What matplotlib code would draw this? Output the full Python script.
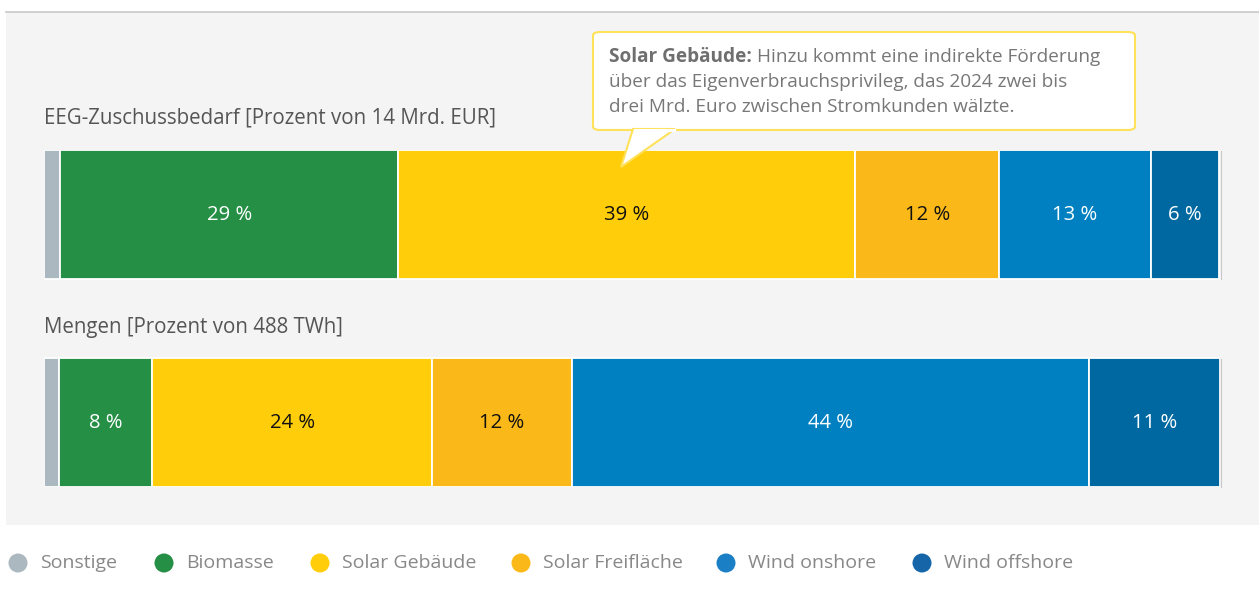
import matplotlib
matplotlib.use("Agg")
import matplotlib.pyplot as plt
from matplotlib.patches import Rectangle, Polygon, FancyBboxPatch, Circle
import numpy as np

plt.rcParams['font.family'] = ['Open Sans', 'DejaVu Sans']

categories = ["Sonstige", "Biomasse", "Solar Gebäude", "Solar Freifläche", "Wind onshore", "Wind offshore"]
colors = ["#abb8c0", "#248f45", "#ffcd0a", "#fbb919", "#0080c1", "#0068a0"]
legend_colors = ["#abb8c0", "#248f45", "#ffcd0a", "#fbb919", "#1a7fc4", "#1565a8"]
label_colors = ["white", "white", "#111111", "#111111", "white", "white"]

subsidy_share = [1.4, 28.7, 38.9, 12.2, 12.9, 5.8]
subsidy_labels = ["", "29 %", "39 %", "12 %", "13 %", "6 %"]
volume_share = [1.3, 7.9, 23.8, 11.9, 44.0, 11.1]
volume_labels = ["", "8 %", "24 %", "12 %", "44 %", "11 %"]

title_top = "EEG-Zuschussbedarf [Prozent von 14 Mrd. EUR]"
title_bottom = "Mengen [Prozent von 488 TWh]"
callout_bold = "Solar Gebäude:"
callout_lines = ["Hinzu kommt eine indirekte Förderung",
                 "über das Eigenverbrauchsprivileg, das 2024 zwei bis",
                 "drei Mrd. Euro zwischen Stromkunden wälzte."]

W, H = 1259, 590
FS_TITLE = 14.8
FS_CALL = 13.7
FS_LEG = 14.0
FS_LAB = 14.6
fig = plt.figure(figsize=(W / 100, H / 100), dpi=100, facecolor="white")

def fx(x):
    return x / W

def fy(y):
    return 1 - y / H

# background panel
fig.add_artist(Rectangle((fx(6), fy(525)), fx(1259) - fx(6), fy(12) - fy(525),
                         transform=fig.transFigure, facecolor="#f4f4f4", edgecolor="none", zorder=0))
fig.add_artist(plt.Line2D([fx(6), fx(1259)], [fy(11.5), fy(11.5)], transform=fig.transFigure,
                          color="#c8c8c8", lw=1.2, zorder=1))

# bar axes: data y equals pixel y
x0, x1, y0, y1 = 44, 1220, 150, 487
ax = fig.add_axes([fx(x0), fy(y1), fx(x1) - fx(x0), fy(y0) - fy(y1)])
ax.set_xlim(0, 100)
ax.set_ylim(y1, y0)
ax.axis("off")

rows = [(214.5, 129, subsidy_share, subsidy_labels), (422.5, 129, volume_share, volume_labels)]
for yc, h, vals, labs in rows:
    lefts = np.concatenate([[0], np.cumsum(vals)[:-1]])
    ax.barh([yc] * len(vals), vals, left=lefts, height=h, color=colors,
            edgecolor="white", linewidth=1.3, zorder=2)
    for l, v, lab, lc in zip(lefts, vals, labs, label_colors):
        if lab:
            ax.text(l + v / 2, yc, lab, ha="center", va="center", color=lc, fontsize=FS_LAB, zorder=3)

ax.plot([100.1, 100.1], [y0 + 1, y0 + 129], color="#c8c8c8", lw=0.8, clip_on=False)
ax.plot([100.1, 100.1], [358 + 1, 358 + 129], color="#c8c8c8", lw=0.8, clip_on=False)

# titles
fig.text(fx(44), fy(118), title_top, ha="left", va="center", fontsize=FS_TITLE, color="#555555")
fig.text(fx(44), fy(327), title_bottom, ha="left", va="center", fontsize=FS_TITLE, color="#555555")

# callout
box = FancyBboxPatch((fx(593), fy(130)), fx(1135) - fx(593), fy(32) - fy(130),
                     boxstyle="round,pad=0,rounding_size=0.006", transform=fig.transFigure,
                     facecolor="white", edgecolor="#ffe15a", lw=1.5, zorder=4)
fig.add_artist(box)
tri = Polygon([(fx(633), fy(129)), (fx(621), fy(167)), (fx(675), fy(129))], closed=True,
              transform=fig.transFigure, facecolor="white", edgecolor="#ffe15a", lw=1.5, zorder=5)
fig.add_artist(tri)
fig.add_artist(plt.Line2D([fx(634.5), fx(673.5)], [fy(130), fy(130)], transform=fig.transFigure,
                          color="white", lw=2.2, zorder=6))

tb = fig.text(fx(609), fy(57), callout_bold, ha="left", va="center", fontsize=FS_CALL,
              color="#6f6f6f", fontweight="bold", zorder=7)
fig.canvas.draw()
bb = tb.get_window_extent()
fig.text(bb.x1 / W + fx(5), fy(57), callout_lines[0], ha="left", va="center", fontsize=FS_CALL,
         color="#777777", zorder=7)
for i, line in enumerate(callout_lines[1:]):
    fig.text(fx(609), fy(82 + 25 * i), line, ha="left", va="center", fontsize=FS_CALL,
             color="#777777", zorder=7)

# legend
lx_circ = [18, 164, 320, 521, 726, 922]
for c, name, lx in zip(legend_colors, categories, lx_circ):
    fig.add_artist(Circle((lx / 100, (H - 563) / 100), 0.095, transform=fig.dpi_scale_trans,
                          facecolor=c, edgecolor="none"))
    fig.text(fx(lx + 22), fy(563), name, ha="left", va="center", fontsize=FS_LEG, color="#888888")

fig.savefig("out.png", dpi=100, facecolor="white")
